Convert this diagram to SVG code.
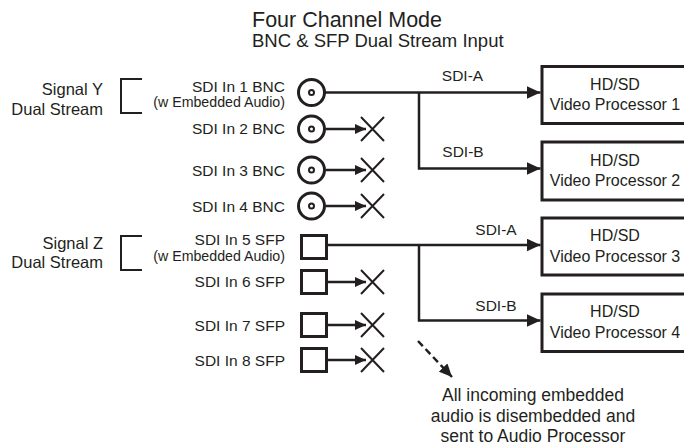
<svg xmlns="http://www.w3.org/2000/svg" width="684" height="445" viewBox="0 0 684 445">
<defs>
<marker id="ah" markerUnits="userSpaceOnUse" markerWidth="14" markerHeight="13" refX="14" refY="6.5" orient="auto"><path d="M0,0 L14,6.5 L0,13 z" fill="#231f20"/></marker>
<marker id="sh" markerUnits="userSpaceOnUse" markerWidth="11" markerHeight="10" refX="11" refY="5" orient="auto"><path d="M0,0 L11,5 L0,10 z" fill="#231f20"/></marker>
<marker id="dh" markerUnits="userSpaceOnUse" markerWidth="13" markerHeight="12" refX="13" refY="6" orient="auto"><path d="M0,0 L13,6 L0,12 z" fill="#231f20"/></marker>
<style>
text{font-family:"Liberation Sans",Arial,sans-serif;fill:#231f20}
.t1{font-size:21.5px}
.t2{font-size:18.5px}
.lb{font-size:15.5px;text-anchor:end}
.sm{font-size:14.2px;text-anchor:end}
.sg{font-size:16.5px;text-anchor:end}
.bx{font-size:16px;text-anchor:middle}
.nt{font-size:17.5px;text-anchor:middle}
.cl{font-size:15.5px;text-anchor:middle}
.box{fill:#fff;stroke:#231f20;stroke-width:3}
.bnc{fill:#fff;stroke:#231f20;stroke-width:3}
.pin{fill:#fff;stroke:#231f20;stroke-width:2}
.sfp{fill:#fff;stroke:#231f20;stroke-width:3}
.br{fill:none;stroke:#231f20;stroke-width:2}
.ln{fill:none;stroke:#231f20;stroke-width:2.5}
.x{fill:none;stroke:#231f20;stroke-width:2}
.ds{fill:none;stroke:#231f20;stroke-width:2.5;stroke-dasharray:7 4}
</style>
</defs>
<g id="title">
<text class="t1" x="252" y="27">Four Channel Mode</text>
<text class="t2" x="252" y="47">BNC &amp; SFP Dual Stream Input</text>
</g>
<g id="signal-y">
<text class="sg" x="103" y="95">Signal Y</text>
<text class="sg" x="103" y="115">Dual Stream</text>
<path class="br" d="M142,79 H121 V113 H142"/>
</g>
<g id="signal-z">
<text class="sg" x="103" y="249">Signal Z</text>
<text class="sg" x="103" y="268">Dual Stream</text>
<path class="br" d="M142,236 H121 V270 H142"/>
</g>
<g id="in1">
<text class="lb" x="285" y="91.5">SDI In 1 BNC</text>
<text class="sm" x="285" y="107">(w Embedded Audio)</text>
<circle class="bnc" cx="311.5" cy="92.5" r="13"/><circle class="pin" cx="311.5" cy="92.5" r="2.5"/>
</g>
<g id="in2">
<text class="lb" x="285" y="134">SDI In 2 BNC</text>
<circle class="bnc" cx="311.5" cy="129" r="13"/><circle class="pin" cx="311.5" cy="129" r="2.5"/>
<path class="x" d="M361,117 L384,141 M384,117 L361,141"/>
</g>
<g id="in3">
<text class="lb" x="285" y="175.5">SDI In 3 BNC</text>
<circle class="bnc" cx="311.5" cy="170" r="13"/><circle class="pin" cx="311.5" cy="170" r="2.5"/>
<path class="x" d="M361,158 L384,182 M384,158 L361,182"/>
</g>
<g id="in4">
<text class="lb" x="285" y="211.5">SDI In 4 BNC</text>
<circle class="bnc" cx="311.5" cy="206" r="13"/><circle class="pin" cx="311.5" cy="206" r="2.5"/>
<path class="x" d="M361,194 L384,218 M384,194 L361,218"/>
</g>
<g id="in5">
<text class="lb" x="285" y="245">SDI In 5 SFP</text>
<text class="sm" x="285" y="260.5">(w Embedded Audio)</text>
<rect class="sfp" x="301.5" y="235.5" width="25" height="23"/>
</g>
<g id="in6">
<text class="lb" x="285" y="287">SDI In 6 SFP</text>
<rect class="sfp" x="301.5" y="270.5" width="25" height="23"/>
<path class="x" d="M361,270 L384,294 M384,270 L361,294"/>
</g>
<g id="in7">
<text class="lb" x="285" y="331">SDI In 7 SFP</text>
<rect class="sfp" x="301.5" y="313.5" width="25" height="23"/>
<path class="x" d="M361,313 L384,337 M384,313 L361,337"/>
</g>
<g id="in8">
<text class="lb" x="285" y="366">SDI In 8 SFP</text>
<rect class="sfp" x="301.5" y="348.5" width="25" height="23"/>
<path class="x" d="M361,348 L384,372 M384,348 L361,372"/>
</g>
<g id="vp1">
<rect class="box" x="542" y="66.5" width="150" height="57"/>
<text class="bx" x="615" y="89.5">HD/SD</text>
<text class="bx" x="615" y="109.5">Video Processor 1</text>
</g>
<g id="vp2">
<rect class="box" x="542" y="142" width="150" height="58"/>
<text class="bx" x="615" y="165.5">HD/SD</text>
<text class="bx" x="615" y="186">Video Processor 2</text>
</g>
<g id="vp3">
<rect class="box" x="542" y="218" width="150" height="57"/>
<text class="bx" x="615" y="241">HD/SD</text>
<text class="bx" x="615" y="261.5">Video Processor 3</text>
</g>
<g id="vp4">
<rect class="box" x="542" y="294" width="150" height="57.5"/>
<text class="bx" x="615" y="317">HD/SD</text>
<text class="bx" x="615" y="337.5">Video Processor 4</text>
</g>
<g id="note">
<text class="nt" x="533" y="401">All incoming embedded</text>
<text class="nt" x="533" y="422">audio is disembedded and</text>
<text class="nt" x="533" y="442">sent to Audio Processor</text>
</g>
<g id="connectors">
<path class="ln" d="M325,92.5 H540.5" marker-end="url(#ah)"/>
<path class="ln" d="M419,92.5 V168.5 H540.5" marker-end="url(#ah)"/>
<text class="cl" x="462.5" y="81">SDI-A</text>
<text class="cl" x="463" y="157">SDI-B</text>
<path class="ln" d="M328,245 H540.5" marker-end="url(#ah)"/>
<path class="ln" d="M419,245 V320.5 H540.5" marker-end="url(#ah)"/>
<text class="cl" x="496" y="234.5">SDI-A</text>
<text class="cl" x="496" y="311">SDI-B</text>
<path class="ln" d="M326,129 H366" marker-end="url(#sh)"/>
<path class="ln" d="M326,170 H366" marker-end="url(#sh)"/>
<path class="ln" d="M326,206 H366" marker-end="url(#sh)"/>
<path class="ln" d="M328,282 H366" marker-end="url(#sh)"/>
<path class="ln" d="M328,325 H366" marker-end="url(#sh)"/>
<path class="ln" d="M328,360 H366" marker-end="url(#sh)"/>
<path class="ds" d="M418,341 L452,377" marker-end="url(#dh)"/>
</g>
</svg>
